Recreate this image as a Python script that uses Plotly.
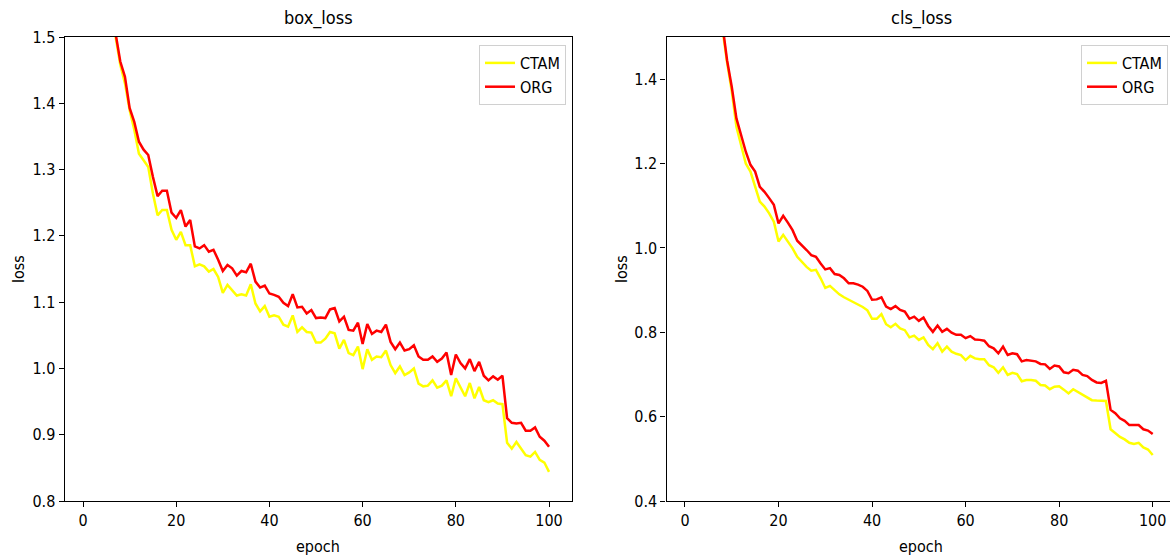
import plotly.graph_objects as go

epochs = list(range(1, 101))

box_ctam = [2.55, 2.08, 1.83, 1.71, 1.62, 1.555, 1.50, 1.458, 1.43, 1.39,
            1.36, 1.324, 1.314, 1.304, 1.264, 1.231, 1.239, 1.239, 1.209, 1.194,
            1.206, 1.186, 1.186, 1.154, 1.157, 1.154, 1.146, 1.15, 1.138, 1.114,
            1.126, 1.118, 1.11, 1.112, 1.11, 1.127, 1.098, 1.086, 1.094, 1.078,
            1.08, 1.078, 1.066, 1.063, 1.08, 1.055, 1.062, 1.055, 1.054, 1.039,
            1.039, 1.045, 1.055, 1.053, 1.03, 1.043, 1.023, 1.02, 1.033, 0.999,
            1.029, 1.013, 1.018, 1.017, 1.027, 1.005, 0.993, 1.003, 0.99, 0.994,
            1.0, 0.977, 0.973, 0.974, 0.982, 0.971, 0.974, 0.982, 0.958, 0.985,
            0.972, 0.958, 0.978, 0.955, 0.972, 0.952, 0.949, 0.952, 0.947, 0.946,
            0.888, 0.879, 0.889, 0.879, 0.869, 0.867, 0.874, 0.862, 0.858, 0.844]

box_org = [2.6, 2.1, 1.85, 1.72, 1.63, 1.56, 1.505, 1.463, 1.44, 1.393,
           1.372, 1.342, 1.33, 1.322, 1.289, 1.26, 1.268, 1.268, 1.235, 1.227,
           1.239, 1.214, 1.224, 1.184, 1.181, 1.186, 1.176, 1.179, 1.164, 1.147,
           1.156, 1.151, 1.14, 1.147, 1.145, 1.158, 1.131, 1.122, 1.125, 1.113,
           1.111, 1.108, 1.099, 1.094, 1.112, 1.092, 1.093, 1.083, 1.088, 1.076,
           1.077, 1.076, 1.089, 1.091, 1.071, 1.078, 1.058, 1.057, 1.069, 1.037,
           1.067, 1.052, 1.057, 1.055, 1.066, 1.04, 1.029, 1.039, 1.027, 1.029,
           1.035, 1.018, 1.013, 1.013, 1.018, 1.01, 1.015, 1.024, 0.99, 1.021,
           1.008, 1.0, 1.014, 0.996, 1.01, 0.989, 0.982, 0.988, 0.983, 0.989,
           0.925, 0.918, 0.917, 0.918, 0.906, 0.906, 0.911, 0.897, 0.891, 0.882]

cls_ctam = [2.35, 2.05, 1.9, 1.78, 1.69, 1.62, 1.57, 1.52, 1.44, 1.372,
            1.287, 1.244, 1.2, 1.181, 1.145, 1.11, 1.098, 1.082, 1.062, 1.015,
            1.031, 1.016, 0.999, 0.979, 0.967, 0.955, 0.946, 0.948, 0.928, 0.905,
            0.91, 0.9, 0.89, 0.883, 0.877, 0.872, 0.866, 0.86, 0.852, 0.832,
            0.832, 0.843, 0.819, 0.812, 0.82, 0.809, 0.805, 0.788, 0.792, 0.782,
            0.788, 0.77, 0.76, 0.774, 0.754, 0.766, 0.754, 0.749, 0.746, 0.734,
            0.744, 0.738, 0.736, 0.736, 0.722, 0.717, 0.704, 0.717, 0.699, 0.704,
            0.701, 0.684, 0.687, 0.687, 0.685, 0.675, 0.674, 0.665, 0.671, 0.672,
            0.664, 0.655, 0.665, 0.659, 0.651, 0.646, 0.639, 0.638, 0.638, 0.637,
            0.57, 0.56, 0.552, 0.546, 0.538, 0.535, 0.538, 0.527, 0.522, 0.509]

cls_org = [2.4, 2.1, 1.95, 1.82, 1.72, 1.65, 1.59, 1.53, 1.445, 1.382,
           1.307, 1.264, 1.228, 1.197, 1.181, 1.145, 1.133, 1.118, 1.102, 1.058,
           1.076, 1.06, 1.042, 1.017, 1.007, 0.995, 0.983, 0.979, 0.963, 0.949,
           0.952, 0.938, 0.936, 0.928, 0.916, 0.916, 0.913, 0.908, 0.898, 0.877,
           0.878, 0.883, 0.861, 0.855, 0.862, 0.853, 0.849, 0.832, 0.837, 0.827,
           0.835, 0.815, 0.801, 0.816, 0.801, 0.808, 0.799, 0.794, 0.794, 0.786,
           0.791, 0.783, 0.782, 0.78, 0.767, 0.762, 0.75, 0.766, 0.746, 0.75,
           0.748, 0.731, 0.734, 0.733, 0.731, 0.725, 0.724, 0.713, 0.721, 0.719,
           0.705, 0.703, 0.711, 0.709, 0.699, 0.696, 0.687, 0.681, 0.68, 0.685,
           0.616, 0.608, 0.596, 0.59, 0.58, 0.58, 0.58, 0.57, 0.567, 0.559]

series_names = ["CTAM", "ORG"]
series_colors = ["#ffff00", "#ff0000"]
titles = ["box_loss", "cls_loss"]
x_ticks = [0, 20, 40, 60, 80, 100]
box_y_ticks = [0.8, 0.9, 1.0, 1.1, 1.2, 1.3, 1.4, 1.5]
cls_y_ticks = [0.4, 0.6, 0.8, 1.0, 1.2, 1.4]

W, H = 1170, 557
TOP, BOTTOM = 37, 501
FONT = "DejaVu Sans Condensed, DejaVu Sans, sans-serif"

fig = go.Figure()
for vals, name, color in zip([box_ctam, box_org], series_names, series_colors):
    fig.add_trace(go.Scatter(x=epochs, y=vals, mode="lines", name=name,
                             line=dict(color=color, width=2.5),
                             xaxis="x", yaxis="y", legend="legend"))
for vals, name, color in zip([cls_ctam, cls_org], series_names, series_colors):
    fig.add_trace(go.Scatter(x=epochs, y=vals, mode="lines", name=name,
                             line=dict(color=color, width=2.5),
                             xaxis="x2", yaxis="y2", legend="legend2"))

axis_common = dict(showline=True, linecolor="black", linewidth=1.2,
                   ticks="outside", ticklen=5, tickwidth=1.2, tickcolor="black",
                   showgrid=False, zeroline=False,
                   tickfont=dict(family=FONT, size=16, color="black"))

fig.update_layout(
    width=W, height=H,
    margin=dict(l=0, r=0, t=TOP, b=H - BOTTOM),
    plot_bgcolor="white", paper_bgcolor="white",
    xaxis=dict(domain=[64.6 / W, 572.1 / W], range=[-3.95, 104.95],
               tickvals=x_ticks, mirror=True, anchor="y", **axis_common),
    yaxis=dict(domain=[0, 1], range=[0.8, 1.5], tickvals=box_y_ticks,
               tickformat=".1f", mirror=True, anchor="x", **axis_common),
    xaxis2=dict(domain=[666.5 / W, 1.0], range=[-3.95, (W - 685) / 4.677],
                tickvals=x_ticks, mirror=True, anchor="y2", **axis_common),
    yaxis2=dict(domain=[0, 1], range=[0.4, 1.5], tickvals=cls_y_ticks,
                tickformat=".1f", mirror=False, anchor="x2", **axis_common),
    legend=dict(x=566 / W, xanchor="right", y=1 - 8 / 464, yanchor="top",
                bgcolor="white", bordercolor="#d0d0d0", borderwidth=1,
                font=dict(family=FONT, size=16, color="black")),
    legend2=dict(x=1168 / W, xanchor="right", y=1 - 8 / 464, yanchor="top",
                 bgcolor="white", bordercolor="#d0d0d0", borderwidth=1,
                 font=dict(family=FONT, size=16, color="black")),
)

annos = []
for cx, t in zip([318, 921], titles):
    annos.append(dict(text=t, x=cx / W, y=1 + 19 / 464, xref="paper", yref="paper",
                      xanchor="center", yanchor="middle", showarrow=False,
                      font=dict(family=FONT, size=18, color="black")))
for cx in [318, 921]:
    annos.append(dict(text="epoch", x=cx / W, y=-45 / 464, xref="paper", yref="paper",
                      xanchor="center", yanchor="middle", showarrow=False,
                      font=dict(family=FONT, size=16, color="black")))
for cx in [18, 621]:
    annos.append(dict(text="loss", x=cx / W, y=0.5, xref="paper", yref="paper",
                      xanchor="center", yanchor="middle", showarrow=False, textangle=-90,
                      font=dict(family=FONT, size=16, color="black")))
fig.update_layout(annotations=annos)

fig.write_html("out.html", config={"displayModeBar": False},
               post_script="document.body.style.margin='0px';")
